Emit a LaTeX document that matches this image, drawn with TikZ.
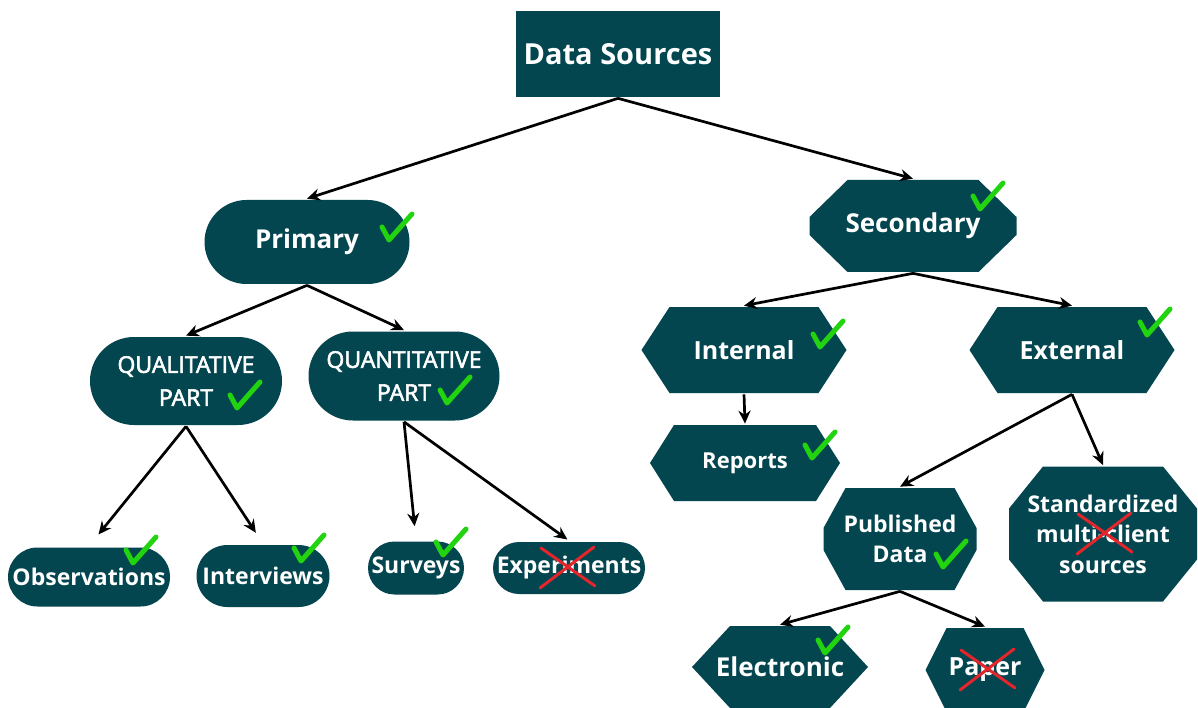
\documentclass[tikz,border=0pt]{standalone}
\usepackage{fontspec}
\setmainfont{Open Sans}
\newfontfamily\capsfont[FakeBold=2.5]{Open Sans}
\usetikzlibrary{arrows.meta,shapes.misc}
\definecolor{srcteal}{HTML}{03464F}
\definecolor{okgreen}{HTML}{22D40F}
\definecolor{nored}{HTML}{E3262B}
\newcommand{\newSource}[4]{\node[#3](#1) at #4 {#2};}
\newcommand{\newLink}[3]{\path[->] (#1) edge [#3] (#2); }
\newcommand{\fsz}[1]{\fontsize{#1}{#1}\selectfont}
\tikzset{
  plain/.style={text=white, align=center, inner sep=0pt,
    font=\bfseries\fontsize{23}{30.5}\selectfont},
  box/.style={plain, fill=srcteal},
  pill/.style={box, rounded rectangle},
  % rectangle with cut corners, drawn inside the node's own box
  hexa/.style 2 args={plain, rectangle, path picture={
    \fill[-, srcteal]
      ([xshift=#1]path picture bounding box.north west)
      -- ([xshift=-#1]path picture bounding box.north east)
      -- ([yshift=-#2]path picture bounding box.north east)
      -- ([yshift=#2]path picture bounding box.south east)
      -- ([xshift=-#1]path picture bounding box.south east)
      -- ([xshift=#1]path picture bounding box.south west)
      -- ([yshift=#2]path picture bounding box.south west)
      -- ([yshift=-#2]path picture bounding box.north west) -- cycle;}},
  okmark/.pic={\draw[-, okgreen, line width=5pt, line cap=round, line join=round]
    (-7,-13) -- (0,0) -- (23,-26);},
  nomark/.pic={\draw[-, nored, line width=3pt, line cap=round]
    (-27,-19) -- (27,19) (26,-20) -- (-28,21);}
}

\begin{document}
\begin{tikzpicture}[
    % pixel grid, y going down
    x=1pt, y=-1pt,
    % Default arrow tip
    ->, >={Stealth[length=13pt,width=12pt]},
    % Edge stroke thickness
    line width=2.7pt
    ]
    \useasboundingbox (0,0) rectangle (1198,708);

    \newSource{ds}{Data Sources}{box, font=\bfseries\fsz{29}, minimum width=204pt, minimum height=86pt}{(618,54)}
    \newSource{prim}{Primary}{pill, font=\bfseries\fsz{26}, minimum width=205pt, minimum height=84pt}{(307,242)}
    \newSource{sec}{Secondary}{hexa={38pt}{37pt}, font=\bfseries\fsz{26}, minimum width=207pt, minimum height=92pt}{(913,226)}

    % primary branch
    \newSource{qual}{QUALITATIVE\\PART}{pill, font=\capsfont\fontsize{23}{33}\selectfont, minimum width=192pt, minimum height=88pt}{(186,381)}
    \newSource{quant}{QUANTITATIVE\\PART}{pill, font=\capsfont\fontsize{23}{33}\selectfont, minimum width=191pt, minimum height=89pt}{(404,376)}
    \newSource{obs}{Observations}{pill, minimum width=162pt, minimum height=59pt}{(89,577)}
    \newSource{intv}{Interviews}{pill, minimum width=133pt, minimum height=62pt}{(263,576)}
    \newSource{surv}{Surveys}{pill, minimum width=96pt, minimum height=53pt}{(416,568)}
    \newSource{expt}{Experiments}{pill, minimum width=152pt, minimum height=52pt}{(569,568)}

    % secondary branch
    \newSource{intl}{Internal}{hexa={28pt}{43pt}, font=\bfseries\fsz{25}, minimum width=205pt, minimum height=86pt}{(744,350)}
    \newSource{extl}{External}{hexa={28pt}{43pt}, font=\bfseries\fsz{25}, minimum width=205pt, minimum height=86pt}{(1072,350)}
    \newSource{rep}{Reports}{hexa={24pt}{38pt}, font=\bfseries\fsz{22}, minimum width=190pt, minimum height=76pt}{(745,463)}
    \newSource{pub}{Published\\Data}{hexa={22pt}{40pt}, minimum width=153pt, minimum height=102pt}{(900,539)}
    \newSource{std}{Standardized\\multi-client\\sources}{hexa={34pt}{42pt}, minimum width=188pt, minimum height=135pt}{(1103,534)}
    \newSource{elec}{Electronic}{hexa={38pt}{41pt}, font=\bfseries\fsz{26}, minimum width=176pt, minimum height=82pt}{(780,667)}
    \newSource{pap}{Paper}{hexa={21pt}{42pt}, font=\bfseries\fsz{25}, minimum width=119pt, minimum height=84pt}{(985,670)}

    \newLink{ds.south}{prim.north}{}
    \newLink{ds.south}{sec.north}{}
    \newLink{prim.south}{qual.north}{}
    \newLink{prim.south}{quant.north}{}
    \newLink{qual.south}{obs.north}{shorten >=15pt}
    \newLink{qual.south}{intv.north}{shorten >=13pt}
    \newLink{quant.south}{surv.north}{shorten >=14pt}
    \newLink{quant.south}{expt.north}{shorten >=2pt}
    \newLink{sec.south}{intl.north}{}
    \newLink{sec.south}{extl.north}{}
    \newLink{intl.south}{rep.north}{}
    \newLink{extl.south}{pub.north}{}
    \newLink{extl.south}{std.north}{}
    \newLink{pub.south}{elec.north}{}
    \newLink{pub.south}{pap.north}{}

    % ticks and crosses
    \pic at (389,240) {okmark};
    \pic at (980,209) {okmark};
    \pic at (820,347) {okmark};
    \pic at (1147,335) {okmark};
    \pic at (812,458) {okmark};
    \pic at (943,567) {okmark};
    \pic at (825,653) {okmark};
    \pic at (237,408) {okmark};
    \pic at (447,403) {okmark};
    \pic at (133,563) {okmark};
    \pic at (301,561) {okmark};
    \pic at (443,555) {okmark};
    \pic at (568,567) {nomark};
    \pic at (1105,533) {nomark};
    \pic at (988,669) {nomark};
  \end{tikzpicture}
\end{document}
